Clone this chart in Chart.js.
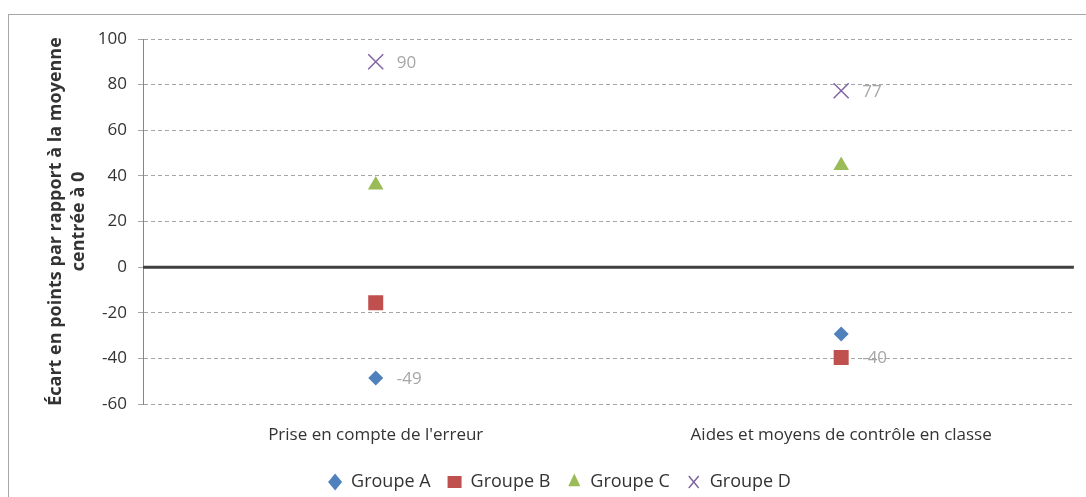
<!DOCTYPE html>
<html>
<head>
<meta charset="utf-8">
<script src="https://cdn.jsdelivr.net/npm/chart.js@4.4.1/dist/chart.umd.min.js"></script>
<style>
  html, body { margin: 0; padding: 0; background: #fff; }
  #wrap { position: relative; width: 1086px; height: 497px; overflow: hidden; }
  #frame { position: absolute; left: 8px; top: 14px; width: 1200px; height: 600px; border: 1.5px solid #a6a6a6; box-sizing: border-box; }
  #myChart { position: absolute; left: 0; top: 0; }
</style>
</head>
<body>
<div id="wrap">
  <div id="frame"></div>
  <canvas id="myChart" width="1086" height="497"></canvas>
</div>
<script>
// data
const categories = ["Prise en compte de l'erreur", 'Aides et moyens de contrôle en classe'];
const seriesNames = ['Groupe A', 'Groupe B', 'Groupe C', 'Groupe D'];
const groupA = [-48.6, -29.3];
const groupB = [-15.6, -39.6];
const groupC = [36, 44.5];
const groupD = [90, 77.3];
// which points carry a value label
const labelA = [true, false];
const labelB = [false, true];
const labelC = [false, false];
const labelD = [true, true];
const yMin = -60;
const yMax = 100;
const yStep = 20;

const FONT = '"Open Sans", "Noto Sans", sans-serif';
const TEXT = '#333333';
const PLOT_BOTTOM = 404;
const PAD_BOTTOM = -4;

const seriesValues = [groupA, groupB, groupC, groupD];
const seriesLabels = [labelA, labelB, labelC, labelD];
const looks = [
  { color: '#4f81bd', style: 'rectRot', radius: 7.5, border: 0 },
  { color: '#c0504d', style: 'rect', radius: 10.6, border: 0 },
  { color: '#9bbb59', style: 'triangle', radius: 9, border: 0 },
  { color: '#8064a2', style: 'crossRot', radius: 10.6, border: 1.5 },
];

const datasets = seriesNames.map((name, i) => ({
  label: name,
  data: seriesValues[i],
  showLine: false,
  pointStyle: looks[i].style,
  pointRadius: looks[i].radius,
  pointHoverRadius: looks[i].radius,
  pointBackgroundColor: looks[i].color,
  pointBorderColor: looks[i].color,
  pointBorderWidth: looks[i].border,
  backgroundColor: looks[i].color,
  borderColor: looks[i].color,
}));

// thick solid line at zero
const zeroLine = {
  id: 'zeroLine',
  beforeDatasetsDraw(chart) {
    const { ctx, chartArea, scales } = chart;
    const y = scales.y.getPixelForValue(0);
    ctx.save();
    ctx.strokeStyle = '#404040';
    ctx.lineWidth = 3;
    ctx.beginPath();
    ctx.moveTo(chartArea.left, y);
    ctx.lineTo(chartArea.right, y);
    ctx.stroke();
    ctx.restore();
  },
};

// grey value labels right of some points
const pointLabels = {
  id: 'pointLabels',
  afterDatasetsDraw(chart) {
    const ctx = chart.ctx;
    ctx.save();
    ctx.font = '17px ' + FONT;
    ctx.fillStyle = '#a6a6a6';
    ctx.textBaseline = 'middle';
    chart.data.datasets.forEach((ds, i) => {
      chart.getDatasetMeta(i).data.forEach((pt, j) => {
        if (!seriesLabels[i][j]) return;
        ctx.fillText(String(Math.round(ds.data[j])), pt.x + 21, pt.y + 1);
      });
    });
    ctx.restore();
  },
};

const ctx = document.getElementById('myChart').getContext('2d');
const myChart = new Chart(ctx, {
  type: 'line',
  data: {
    labels: categories,
    datasets: datasets,
  },
  plugins: [zeroLine, pointLabels],
  options: {
    responsive: false,
    animation: false,
    layout: { padding: { left: 42, right: 9, top: 39, bottom: PAD_BOTTOM } },
    plugins: {
      tooltip: { enabled: false },
      legend: {
        position: 'bottom',
        labels: {
          usePointStyle: true,
          pointStyleWidth: 14,
          boxHeight: 12,
          padding: 17,
          color: TEXT,
          font: { family: FONT, size: 18 },
        },
      },
    },
    scales: {
      x: {
        offset: true,
        afterFit: scale => {
          scale.height = scale.chart.height - PAD_BOTTOM - PLOT_BOTTOM - scale.chart.legend.height;
        },
        grid: { display: false },
        border: { display: false },
        ticks: { padding: 13, color: TEXT, font: { family: FONT, size: 17 } },
      },
      y: {
        min: yMin,
        max: yMax,
        afterFit: scale => {
          scale.width = 101;
        },
        ticks: { stepSize: yStep, padding: 11, color: TEXT, font: { family: FONT, size: 17 } },
        grid: {
          color: c => (c.tick && c.tick.value === 0 ? 'rgba(0,0,0,0)' : '#a6a6a6'),
          lineWidth: 1,
          tickLength: 5,
          tickColor: '#a6a6a6',
        },
        border: { color: '#868686', width: 1, dash: [4, 3] },
        title: {
          display: true,
          text: ['Écart en points par rapport à la moyenne', 'centrée à 0'],
          color: TEXT,
          padding: { top: 3, bottom: 4 },
          font: { family: FONT, size: 18, weight: 'bold', lineHeight: 1.25 },
        },
      },
    },
  },
});
</script>
</body>
</html>
